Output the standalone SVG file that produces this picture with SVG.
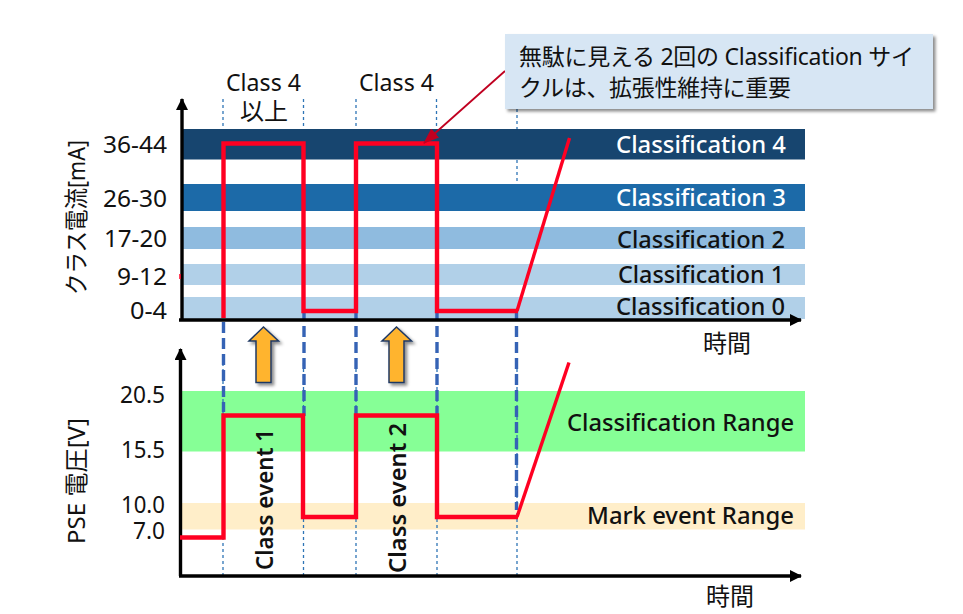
<svg xmlns="http://www.w3.org/2000/svg" width="963" height="614" viewBox="0 0 963 614">
<style>
text{font-family:"Noto Sans","Noto Sans CJK JP",sans-serif;font-size:24px;fill:#111}
.tick{text-anchor:end}
.lbl{text-anchor:end;font-weight:500}
.w{fill:#fff}
.ev{font-weight:600}
.red{fill:none;stroke:#ff0022;stroke-width:4.4;stroke-linejoin:miter}
.ramp{fill:none;stroke:#ff0022;stroke-width:3.4}
.dot{fill:none;stroke:#2e75b6;stroke-width:1.3;stroke-dasharray:3 3}
.dash{fill:none;stroke:#3563b5;stroke-width:3.4;stroke-dasharray:11 5}
.ax{fill:none;stroke:#000;stroke-width:3.4}
.up{fill:#ffb42e;stroke:#1f3864;stroke-width:1.5;filter:url(#sh)}
</style>
<defs>
<filter id="sh" x="-30%" y="-30%" width="170%" height="170%"><feDropShadow dx="2.5" dy="2.5" stdDeviation="1.8" flood-color="#000" flood-opacity="0.45"/></filter>
<marker id="ah" markerUnits="userSpaceOnUse" markerWidth="12" markerHeight="12" refX="11" refY="6" orient="auto"><path d="M0 0L12 6L0 12z" fill="#000"/></marker>
<marker id="ahr" markerUnits="userSpaceOnUse" markerWidth="16" markerHeight="12" refX="15" refY="6" orient="auto"><path d="M0 0L16 6L0 12z" fill="#c00020"/></marker>
</defs>
<g id="bands">
<g id="band-c4"><rect x="182.500" y="129" width="622.500" height="30.500" fill="#17456f"/><text class="lbl w" x="786" y="153" textLength="170" lengthAdjust="spacingAndGlyphs">Classification 4</text></g>
<g id="band-c3"><rect x="181" y="184" width="624" height="27" fill="#1c6aa8"/><text class="lbl w" x="786" y="206" textLength="170" lengthAdjust="spacingAndGlyphs">Classification 3</text></g>
<g id="band-c2"><rect x="181" y="227" width="624" height="22" fill="#8fbbdf"/><text class="lbl" x="785" y="248" textLength="168" lengthAdjust="spacingAndGlyphs">Classification 2</text></g>
<g id="band-c1"><rect x="181" y="264" width="624" height="21" fill="#b1d0e8"/><text class="lbl" x="784" y="283" textLength="166" lengthAdjust="spacingAndGlyphs">Classification 1</text></g>
<g id="band-c0"><rect x="181" y="297" width="624" height="22" fill="#b1d0e8"/><text class="lbl" x="785" y="315" textLength="169" lengthAdjust="spacingAndGlyphs">Classification 0</text></g>
<g id="band-range"><rect x="181.500" y="391" width="623.500" height="60.500" fill="#86ff96"/><text class="lbl" x="794" y="431" textLength="227" lengthAdjust="spacingAndGlyphs">Classification Range</text></g>
<g id="band-mark"><rect x="181.500" y="503" width="623.500" height="26.500" fill="#ffeec9"/><text class="lbl" x="794" y="524" textLength="207" lengthAdjust="spacingAndGlyphs">Mark event Range</text></g>
</g>
<g id="connectors">
<path class="dot" d="M223 99V129M303.500 99V129M356 99V129M436.500 99V129M517 109V129M517 160V181"/>
<path class="dot" d="M223 363V575M303.500 363V575M356 363V575M437 363V575M517 363V575"/>
<path class="dash" d="M223.500 322V412M304 310V416M356 310V416M437 310V416M516.500 310V510"/>
<path class="ax" d="M182 320V99" marker-end="url(#ah)"/>
<path class="ax" d="M179 320H801" marker-end="url(#ah)"/>
<path class="ax" d="M180.500 576V349" marker-end="url(#ah)"/>
<path class="ax" d="M179 576H801" marker-end="url(#ah)"/>
<path d="M180 274V279" stroke="#ff0022" stroke-width="1.500"/>
<path class="red" d="M223.500 318V143.500H303.500V311H356V143.500H437V311H518"/>
<path class="ramp" d="M517 311L569.500 138"/>
<path class="red" d="M180 537.500H223.500V415.500H303V517H356V415.500H437V517H518"/>
<path class="ramp" d="M517 517L569 362.500"/>
<path d="M505 71L424 143" fill="none" stroke="#c00020" stroke-width="1.800" marker-end="url(#ahr)"/>
</g>
<g id="axis-labels">
<text class="tick" x="167" y="153" textLength="64" lengthAdjust="spacingAndGlyphs">36-44</text>
<text class="tick" x="167" y="207" textLength="64" lengthAdjust="spacingAndGlyphs">26-30</text>
<text class="tick" x="167" y="247" textLength="63" lengthAdjust="spacingAndGlyphs">17-20</text>
<text class="tick" x="167" y="285" textLength="50" lengthAdjust="spacingAndGlyphs">9-12</text>
<text class="tick" x="167" y="319" textLength="37" lengthAdjust="spacingAndGlyphs">0-4</text>
<text class="tick" x="165" y="403" textLength="45" lengthAdjust="spacingAndGlyphs">20.5</text>
<text class="tick" x="165" y="458" textLength="44" lengthAdjust="spacingAndGlyphs">15.5</text>
<text class="tick" x="165" y="513" textLength="44" lengthAdjust="spacingAndGlyphs">10.0</text>
<text class="tick" x="165" y="539" textLength="32" lengthAdjust="spacingAndGlyphs">7.0</text>
<text transform="translate(85 295) rotate(-90)" textLength="155" lengthAdjust="spacingAndGlyphs">クラス電流[mA]</text>
<text transform="translate(85 544) rotate(-90)" textLength="126">PSE 電圧[V]</text>
<text x="703" y="352">時間</text>
<text x="706" y="605">時間</text>
<text x="226" y="91" textLength="75" lengthAdjust="spacingAndGlyphs">Class 4</text>
<text x="359" y="91" textLength="75" lengthAdjust="spacingAndGlyphs">Class 4</text>
<text x="240" y="120">以上</text>
</g>
<g id="event-1"><path class="up" d="M263.500 327L278.500 341H271V382.500H256V341H249z"/><text class="ev" transform="translate(272.500 570) rotate(-90)" textLength="141" lengthAdjust="spacingAndGlyphs">Class event 1</text></g>
<g id="event-2"><path class="up" d="M396.500 327L411.500 341H404V382.500H389V341H382z"/><text class="ev" transform="translate(406 573) rotate(-90)" textLength="150" lengthAdjust="spacingAndGlyphs">Class event 2</text></g>
<g id="callout"><rect x="505" y="34" width="428" height="75" fill="#d7e6f4" filter="url(#sh)"/>
<text x="519" y="65" style="font-size:23px" textLength="395">無駄に見える 2回の Classification サイ</text>
<text x="519" y="96" style="font-size:23px" textLength="272">クルは、拡張性維持に重要</text></g>
</svg>
